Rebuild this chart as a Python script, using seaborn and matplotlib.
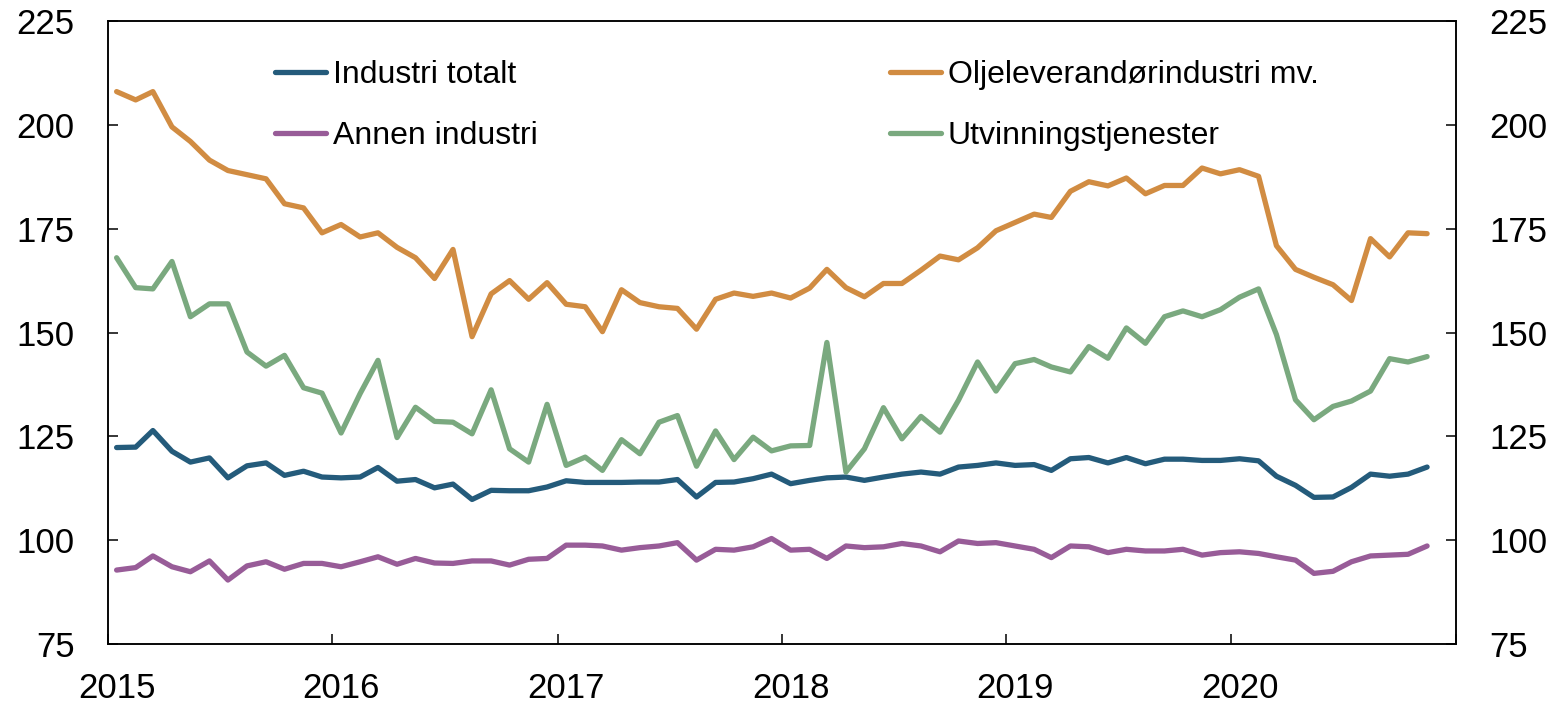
import pandas as pd
import matplotlib
matplotlib.use("Agg")
import matplotlib.pyplot as plt
import matplotlib.dates as mdates
import seaborn as sns

# Monthly index values, Jan 2015 - Nov 2020
start_month = "2015-01-01"
n_months = 71

industri_totalt = [
    122.3, 122.4, 126.4, 121.4, 118.8, 119.8, 115.0, 117.9, 118.6, 115.6, 116.6, 115.2,
    115.0, 115.2, 117.5, 114.2, 114.6, 112.6, 113.5, 109.8, 112.0, 111.9, 111.9, 112.8,
    114.3, 113.9, 113.9, 113.9, 114.0, 114.0, 114.6, 110.4, 113.9, 114.0, 114.8, 115.9,
    113.6, 114.4, 115.0, 115.2, 114.4, 115.2, 115.9, 116.4, 115.9, 117.6, 118.0, 118.6,
    118.0, 118.2, 116.8, 119.6, 119.9, 118.6, 119.9, 118.4, 119.5, 119.5, 119.2, 119.2,
    119.6, 119.1, 115.4, 113.2, 110.3, 110.4, 112.7, 115.9, 115.4, 115.9, 117.6,
]
annen_industri = [
    92.8, 93.4, 96.2, 93.6, 92.4, 95.0, 90.4, 93.8, 94.8, 93.0, 94.4, 94.4,
    93.6, 94.8, 96.0, 94.2, 95.6, 94.5, 94.4, 95.0, 95.0, 94.0, 95.4, 95.6,
    98.8, 98.8, 98.6, 97.6, 98.2, 98.6, 99.4, 95.2, 97.8, 97.6, 98.4, 100.4,
    97.6, 97.8, 95.6, 98.6, 98.2, 98.4, 99.2, 98.6, 97.2, 99.8, 99.2, 99.4,
    98.6, 97.8, 95.8, 98.6, 98.4, 97.0, 97.8, 97.4, 97.4, 97.8, 96.4, 97.0,
    97.2, 96.8, 96.0, 95.2, 92.0, 92.5, 94.8, 96.2, 96.4, 96.6, 98.6,
]
oljeleverandor = [
    208.0, 206.0, 208.0, 199.5, 196.0, 191.5, 189.0, 188.0, 187.0, 181.0, 180.0, 174.0,
    176.0, 173.0, 174.0, 170.5, 168.0, 163.0, 170.0, 149.0, 159.3, 162.5, 158.0, 162.0,
    156.8, 156.2, 150.2, 160.3, 157.2, 156.2, 155.8, 150.8, 158.0, 159.5, 158.7, 159.5,
    158.3, 160.7, 165.2, 160.8, 158.6, 161.8, 161.8, 165.0, 168.4, 167.5, 170.4, 174.5,
    176.5, 178.5, 177.7, 184.0, 186.3, 185.3, 187.2, 183.4, 185.4, 185.4, 189.6, 188.2,
    189.2, 187.6, 170.9, 165.2, 163.3, 161.5, 157.7, 172.6, 168.2, 174.0, 173.8,
]
utvinning = [
    168.0, 160.8, 160.5, 167.1, 153.8, 156.9, 156.9, 145.3, 141.9, 144.5, 136.7, 135.4,
    125.8, 135.3, 143.3, 124.7, 132.0, 128.6, 128.4, 125.6, 136.2, 122.0, 118.8, 132.7,
    118.0, 120.0, 116.8, 124.2, 120.8, 128.4, 130.0, 117.8, 126.3, 119.4, 124.8, 121.5,
    122.7, 122.8, 147.6, 116.4, 122.0, 131.9, 124.4, 129.8, 126.0, 133.7, 142.9, 135.9,
    142.5, 143.5, 141.7, 140.5, 146.6, 143.8, 151.1, 147.4, 153.8, 155.2, 153.8, 155.5,
    158.5, 160.5, 149.5, 133.8, 129.0, 132.2, 133.5, 135.9, 143.7, 142.9, 144.2,
]

series_names = ["Industri totalt", "Annen industri", "Oljeleverandørindustri mv.", "Utvinningstjenester"]
series_values = [industri_totalt, annen_industri, oljeleverandor, utvinning]
colors = ["#245b7b", "#985c98", "#d18c42", "#7aa97f"]

y_ticks = [75, 100, 125, 150, 175, 200, 225]
year_labels = ["2015", "2016", "2017", "2018", "2019", "2020"]

# points are placed mid-month
dates = pd.date_range(start_month, periods=n_months, freq="MS") + pd.Timedelta(days=14)
frames = []
for name, vals in zip(series_names, series_values):
    frames.append(pd.DataFrame({"dato": dates, "indeks": vals, "serie": name}))
df = pd.concat(frames, ignore_index=True)

sns.set_style("ticks")
plt.rcParams["font.family"] = ["Liberation Sans", "DejaVu Sans"]
plt.rcParams["text.color"] = "black"
plt.rcParams["xtick.color"] = "black"
plt.rcParams["ytick.color"] = "black"
plt.rcParams["axes.edgecolor"] = "black"

fig = plt.figure(figsize=(15.63, 7.08), dpi=100)
ax = fig.add_axes([108 / 1563, 64 / 708, 1348 / 1563, 623 / 708])

sns.lineplot(data=df, x="dato", y="indeks", hue="serie", hue_order=series_names,
             palette=colors, linewidth=3.8, ax=ax, legend=True)
for line in ax.get_lines():
    line.set_solid_capstyle("round")
    line.set_solid_joinstyle("round")

ax.set_xlim(pd.Timestamp("2015-01-01"), pd.Timestamp("2021-01-01"))
ax.set_ylim(75, 225)
ax.set_yticks(y_ticks)
ax.set_xlabel("")
ax.set_ylabel("")

ax.xaxis.set_major_locator(mdates.YearLocator())
ax.xaxis.set_major_formatter(plt.NullFormatter())
label_pos = [pd.Timestamp(f"{y}-01-15") for y in year_labels]
ax.set_xticks(label_pos, minor=True)
ax.set_xticklabels(year_labels, minor=True)
ax.tick_params(axis="x", which="major", direction="in", length=7.5, width=1.1)
ax.tick_params(axis="x", which="minor", length=0, labelsize=25, pad=20, labelcolor="black")
ax.tick_params(axis="y", direction="in", length=7.5, width=1.1, labelsize=25, pad=24,
               labelcolor="black")

ax2 = ax.twinx()
ax2.set_ylim(75, 225)
ax2.set_yticks(y_ticks)
ax2.tick_params(axis="y", direction="in", length=7.5, width=1.1, labelsize=25, pad=24,
                labelcolor="black")

for a in (ax, ax2):
    for s in a.spines.values():
        s.set_linewidth(1.1)
        s.set_color("black")

handles, labels = ax.get_legend_handles_labels()
leg = ax.legend(handles, labels, ncol=2, loc="upper left", bbox_to_anchor=(0.124, 0.937),
                frameon=False, fontsize=23, handlelength=1.6, handletextpad=0.2,
                columnspacing=11.05, labelspacing=0.96, borderpad=0, borderaxespad=0)
for t in leg.get_texts():
    t.set_color("black")

fig.savefig("out.png", dpi=100)
